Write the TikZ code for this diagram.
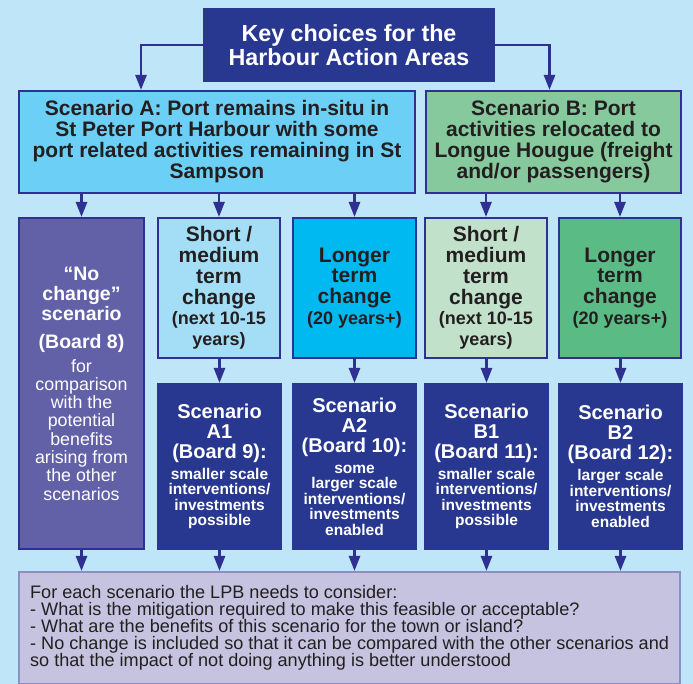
\documentclass[tikz,border=0pt]{standalone}
\usepackage{fontspec}
\setmainfont{Liberation Sans}
\usetikzlibrary{arrows.meta, positioning}
\definecolor{bgblue}{HTML}{BEE6F8}
\definecolor{navy}{HTML}{283891}
\definecolor{edge}{HTML}{2E3192}
\definecolor{ink}{HTML}{231F20}
\definecolor{scaFill}{HTML}{6CCFF6}
\definecolor{scbFill}{HTML}{86C99D}
\definecolor{nochFill}{HTML}{6261A8}
\definecolor{shaFill}{HTML}{A4DDF6}
\definecolor{loaFill}{HTML}{00B9F0}
\definecolor{shbFill}{HTML}{C2E1CB}
\definecolor{lobFill}{HTML}{5ABB85}
\definecolor{noteFill}{HTML}{C5C3E0}
\definecolor{noteEdge}{HTML}{8F8DC5}
\newcommand{\subsize}{\fontsize{18}{18}\selectfont}
\newcommand{\plainsize}{\mdseries\fontsize{17.8}{18}\selectfont}
\newcommand{\detailsize}{\fontsize{15.5}{15}\selectfont}

\begin{document}
\begin{tikzpicture}[x=1pt, y=1pt,
		box/.style={draw=edge,line width=2pt,rectangle,align=center,inner sep=0pt},
		titlebox/.style={box,fill=navy,draw=navy,text=white,minimum width=290pt,minimum height=72pt,font=\bfseries\fontsize{23.3}{24}\selectfont},
		scen/.style={box,minimum height=102pt,text=ink,font=\bfseries\fontsize{21}{21}\selectfont},
		term/.style={box,minimum width=122pt,minimum height=140pt,text=ink,font=\bfseries\fontsize{21}{20.8}\selectfont},
		nochange/.style={box,fill=nochFill,text=white,minimum width=125pt,minimum height=331pt,font=\bfseries\fontsize{19.5}{18.3}\selectfont},
		board/.style={box,fill=navy,draw=navy,text=white,minimum width=123pt,minimum height=165pt,font=\bfseries\fontsize{20}{15.5}\selectfont},
		note/.style={box,draw=noteEdge,line width=2.2pt,fill=noteFill,text=ink,align=left,minimum width=661pt,minimum height=112pt,font=\fontsize{18.1}{17}\selectfont},
		arr/.style={draw=edge,line width=2.6pt,-{Triangle[width=11pt,length=15pt]}}]
		\useasboundingbox[fill=bgblue] (0,0) rectangle (693,684);
		\node (title) [titlebox,anchor=north west] at (203,676) {Key choices for the\\Harbour Action Areas};
		\node (scA) [scen,fill=scaFill,minimum width=396pt,anchor=north west] at (18,594) {Scenario A: Port remains in-situ in\\St Peter Port Harbour with some\\port related activities remaining in St\\Sampson};
		\node (scB) [scen,fill=scbFill,minimum width=255pt,right=9pt of scA] {Scenario B: Port\\activities relocated to\\Longue Hougue (freight\\and/or passengers)};
		\node (noch) [nochange,below=23pt of scA.south west,anchor=north west] {“No\\[1.7pt]change”\\[1.7pt]scenario\\[9.7pt](Board 8)\\[5.7pt]\plainsize for\\\plainsize comparison\\\plainsize with the\\\plainsize potential\\\plainsize benefits\\\plainsize arising from\\\plainsize the other\\\plainsize scenarios};
		\node (shA) [term,fill=shaFill,right=12pt of noch.north east,anchor=north west] {Short /\\medium\\term\\change\\\subsize(next 10-15\\\subsize years)};
		\node (loA) [term,fill=loaFill,minimum width=123pt,right=11pt of shA.north east,anchor=north west] {Longer\\term\\change\\\subsize(20 years+)};
		\node (shB) [term,fill=shbFill,right=7pt of loA.north east,anchor=north west] {Short /\\medium\\term\\change\\\subsize(next 10-15\\\subsize years)};
		\node (loB) [term,fill=lobFill,right=10pt of shB.north east,anchor=north west] {Longer\\term\\change\\\subsize(20 years+)};
		\node (A1) [board,below=24pt of shA.south west,anchor=north west] {Scenario\\[4.5pt]A1\\[4.5pt](Board 9):\\[5.5pt]\detailsize smaller scale\\\detailsize interventions/\\\detailsize investments\\\detailsize possible};
		\node (A2) [board,below=24pt of loA.south west,anchor=north west] {Scenario\\[4.5pt]A2\\[4.5pt](Board 10):\\[5.5pt]\detailsize some\\\detailsize larger scale\\\detailsize interventions/\\\detailsize investments\\\detailsize enabled};
		\node (B1) [board,below=24pt of shB.south west,anchor=north west] {Scenario\\[4.5pt]B1\\[4.5pt](Board 11):\\[5.5pt]\detailsize smaller scale\\\detailsize interventions/\\\detailsize investments\\\detailsize possible};
		\node (B2) [board,below=24pt of loB.south west,anchor=north west] {Scenario\\[4.5pt]B2\\[4.5pt](Board 12):\\[5.5pt]\detailsize larger scale\\\detailsize interventions/\\\detailsize investments\\\detailsize enabled};
		\node (note) [note,below=21pt of noch.south west,anchor=north west] {For each scenario the LPB needs to consider:\\- What is the mitigation required to make this feasible or acceptable?\\- What are the benefits of this scenario for the town or island?\\- No change is included so that it can be compared with the other scenarios and\\so that the impact of not doing anything is better understood};
		\draw [arr] (title.west) -| ([xshift=-76pt]scA.north);
		\draw [arr] (title.east) -| ([xshift=-4pt]scB.north);
		\draw [arr] (scA.south -| noch.north) -- (noch.north);
		\draw [arr] (scA.south -| shA.north) -- (shA.north);
		\draw [arr] (scA.south -| loA.north) -- (loA.north);
		\draw [arr] (scB.south -| shB.north) -- (shB.north);
		\draw [arr] (scB.south -| loB.north) -- (loB.north);
		\draw [arr] (A1.north |- shA.south) -- (A1.north);
		\draw [arr] (A2.north |- loA.south) -- (A2.north);
		\draw [arr] (B1.north |- shB.south) -- (B1.north);
		\draw [arr] (B2.north |- loB.south) -- (B2.north);
		\draw [arr] (noch.south) -- (noch.south |- note.north);
		\draw [arr] (A1.south) -- (A1.south |- note.north);
		\draw [arr] (A2.south) -- (A2.south |- note.north);
		\draw [arr] (B1.south) -- (B1.south |- note.north);
		\draw [arr] (B2.south) -- (B2.south |- note.north);
	\end{tikzpicture}
\end{document}
